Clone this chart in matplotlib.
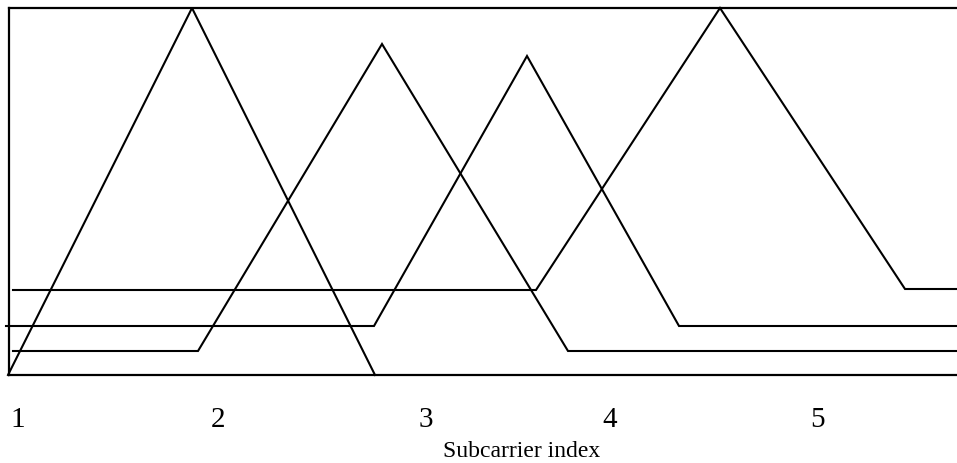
import matplotlib.pyplot as plt

# subcarrier spectra (triangular shapes), x/y in drawing units
sub1_x = [-1, 183, 366]
sub1_y = [0, 367, 0]
sub2_x = [4, 189, 373, 559, 948]
sub2_y = [24, 24, 331, 24, 24]
sub3_x = [-3, 365, 518, 670, 948]
sub3_y = [49, 49, 319, 49, 49]
sub4_x = [4, 527, 711, 896, 948]
sub4_y = [85, 85, 367, 86, 86]

tick_pos = [9, 209, 417, 601, 809]
tick_labels = ['1', '2', '3', '4', '5']

plt.rcParams['font.family'] = ['Liberation Serif', 'DejaVu Serif']

fig = plt.figure(figsize=(9.57, 4.63), dpi=100)
ax = fig.add_axes([9 / 957, 88 / 463, 948 / 957, 367 / 463])

for xs, ys in [(sub1_x, sub1_y), (sub2_x, sub2_y), (sub3_x, sub3_y), (sub4_x, sub4_y)]:
    ax.plot(xs, ys, color='black', lw=1.5, clip_on=False, solid_joinstyle='miter')

ax.set_xlim(0, 948)
ax.set_ylim(0, 367)
ax.spines['right'].set_visible(False)
for s in ['left', 'top', 'bottom']:
    ax.spines[s].set_linewidth(1.6)

ax.set_yticks([])
ax.set_xticks(tick_pos)
ax.set_xticklabels(tick_labels, fontsize=21)
ax.tick_params(axis='x', length=0, pad=23)
ax.set_xlabel('Subcarrier index', fontsize=17, labelpad=2)
ax.xaxis.set_label_coords(513 / 948, -66 / 367)

fig.savefig('out.png', dpi=100)
